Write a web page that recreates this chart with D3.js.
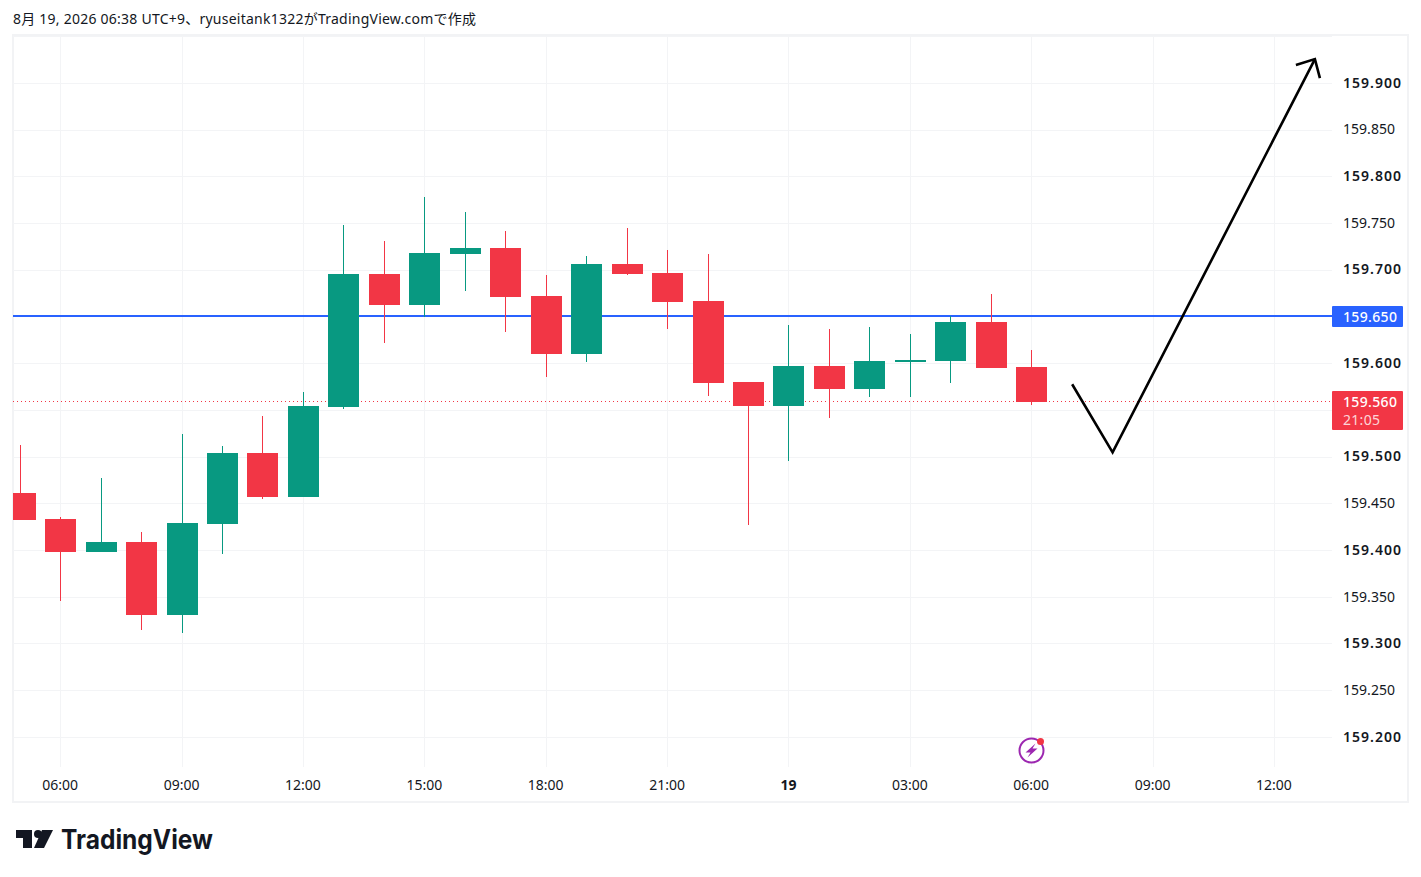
<!DOCTYPE html>
<html lang="ja">
<head>
<meta charset="UTF-8" />
<title>USDJPY 1H</title>
<script src="https://d3js.org/d3.v7.min.js"></script>
<style>
	body { margin: 0; background: #fff; }
	svg { display: block; }
	text { font-family: "Noto Sans", "Noto Sans CJK JP", sans-serif; fill: #131722; }
</style>
</head>
<body>
<svg id="chart" width="1421" height="877"></svg>
<script>
// hours counted from 06:00 on the 18th
const hours = d3.range(-1, 25)
const opens = [159.462, 159.434, 159.398, 159.409, 159.331, 159.428, 159.504, 159.457, 159.554, 159.696, 159.663, 159.717, 159.724, 159.672, 159.610, 159.707, 159.697, 159.667, 159.580, 159.555, 159.597, 159.573, 159.603, 159.603, 159.645, 159.596]
const highs = [159.513, 159.436, 159.478, 159.420, 159.525, 159.512, 159.544, 159.570, 159.748, 159.731, 159.778, 159.762, 159.742, 159.695, 159.715, 159.745, 159.722, 159.717, 159.580, 159.641, 159.637, 159.639, 159.632, 159.651, 159.675, 159.615]
const lows = [159.433, 159.346, 159.398, 159.315, 159.312, 159.396, 159.455, 159.457, 159.551, 159.622, 159.650, 159.678, 159.634, 159.586, 159.602, 159.695, 159.637, 159.565, 159.427, 159.496, 159.542, 159.564, 159.564, 159.579, 159.595, 159.556]
const closes = [159.433, 159.398, 159.409, 159.331, 159.429, 159.504, 159.457, 159.555, 159.696, 159.663, 159.718, 159.724, 159.671, 159.610, 159.707, 159.696, 159.666, 159.579, 159.555, 159.597, 159.573, 159.603, 159.604, 159.645, 159.595, 159.559]

const timeTicks = [0, 3, 6, 9, 12, 15, 18, 21, 24, 27, 30]
const timeLabels = ['06:00', '09:00', '12:00', '15:00', '18:00', '21:00', '19', '03:00', '06:00', '09:00', '12:00']
const priceTicks = [159.9, 159.85, 159.8, 159.75, 159.7, 159.65, 159.6, 159.55, 159.5, 159.45, 159.4, 159.35, 159.3, 159.25, 159.2]
const priceLabels = ['159.900', '159.850', '159.800', '159.750', '159.700', '', '159.600', '', '159.500', '159.450', '159.400', '159.350', '159.300', '159.250', '159.200']
const gridPrices = [159.95].concat(priceTicks)

const alertPrice = 159.651
const lastPrice = 159.56
const timer = '21:05'
const arrowHours = [25, 26, 31]
const arrowPrices = [159.578, 159.505, 159.926]

const GREEN = '#089981'
const RED = '#f23645'
const BLUE = '#2962ff'
const plotL = 13, plotR = 1332, plotT = 36, plotB = 767

const x = d3.scaleLinear().domain([0, 30]).range([60.65, 1274.45])
const y = d3.scaleLinear().domain([159.95, 159.2]).range([36.64, 737.4])
const snap = v => Math.round(v - 0.5) + 0.5

const svg = d3.select('#chart')

svg.append('rect').attr('width', 1421).attr('height', 877).attr('fill', '#fff')
svg.append('text').attr('x', 13).attr('y', 24).attr('font-size', 14).attr('textLength', 463)
	.text('8月 19, 2026 06:38 UTC+9、ryuseitank1322がTradingView.comで作成')

svg.append('rect').attr('x', 13).attr('y', 35).attr('width', 1395).attr('height', 767)
	.attr('fill', 'none').attr('stroke', '#f2f3f5').attr('stroke-width', 2)

svg.append('clipPath').attr('id', 'plot').append('rect')
	.attr('x', plotL).attr('y', plotT).attr('width', plotR - plotL).attr('height', plotB - plotT)

// grid
const grid = svg.append('g').attr('stroke', '#f3f4f6').attr('stroke-width', 1)
grid.selectAll('.h').data(gridPrices).enter().append('line').attr('class', 'h')
	.attr('x1', plotL).attr('x2', plotR)
	.attr('y1', d => snap(y(d))).attr('y2', d => snap(y(d)))
grid.selectAll('.v').data(timeTicks).enter().append('line').attr('class', 'v')
	.attr('y1', plotT).attr('y2', plotB)
	.attr('x1', d => snap(x(d))).attr('x2', d => snap(x(d)))

// axes
const xAxis = svg.append('g').attr('transform', 'translate(-1,778)')
	.call(d3.axisBottom(x).tickValues(timeTicks).tickSize(0).tickPadding(0)
		.tickFormat((d, i) => timeLabels[i]))
xAxis.select('.domain').remove()
xAxis.selectAll('text').attr('font-size', 14).attr('dy', '0.85em')
	.style('font-family', '"Noto Sans", sans-serif').attr('fill', '#131722')
	.attr('font-weight', (d, i) => timeLabels[i] === '19' ? 700 : 400)

const yAxis = svg.append('g').attr('transform', 'translate(1343,-1)')
	.call(d3.axisRight(y).tickValues(priceTicks).tickSize(0).tickPadding(0)
		.tickFormat((d, i) => priceLabels[i]))
yAxis.select('.domain').remove()
yAxis.selectAll('text').attr('font-size', 14).attr('dy', '0.34em')
	.style('font-family', '"Noto Sans", sans-serif').attr('fill', '#131722')
	.attr('font-weight', (d, i) => i % 2 === 0 ? 600 : 400)
	.attr('textLength', (d, i) => i % 2 === 0 ? 58 : 52)

const plot = svg.append('g').attr('clip-path', 'url(#plot)')

// price lines
plot.append('line').attr('x1', plotL).attr('x2', plotR)
	.attr('y1', snap(y(lastPrice))).attr('y2', snap(y(lastPrice)))
	.attr('stroke', RED).attr('stroke-width', 1).attr('stroke-dasharray', '1 3')
plot.append('line').attr('x1', plotL).attr('x2', plotR)
	.attr('y1', Math.round(y(alertPrice))).attr('y2', Math.round(y(alertPrice)))
	.attr('stroke', BLUE).attr('stroke-width', 2)

// candles
const colour = i => closes[i] >= opens[i] ? GREEN : RED
const candles = plot.selectAll('.candle').data(hours).enter().append('g')
	.attr('class', 'candle').attr('shape-rendering', 'crispEdges')
candles.append('line')
	.attr('x1', d => snap(x(d))).attr('x2', d => snap(x(d)))
	.attr('y1', (d, i) => Math.round(y(highs[i])))
	.attr('y2', (d, i) => Math.round(y(lows[i])))
	.attr('stroke', (d, i) => colour(i))
candles.append('rect')
	.attr('x', d => snap(x(d)) - 15.5)
	.attr('width', 31)
	.attr('y', (d, i) => Math.round(y(Math.max(opens[i], closes[i]))))
	.attr('height', (d, i) => Math.max(2, Math.round(y(Math.min(opens[i], closes[i]))) - Math.round(y(Math.max(opens[i], closes[i])))))
	.attr('fill', (d, i) => colour(i))

// hand drawn arrow
const arrowLine = d3.line().x(d => x(d[0])).y(d => y(d[1]))
const arrowPts = arrowHours.map((h, i) => [h, arrowPrices[i]])
svg.append('path').attr('d', arrowLine(arrowPts))
	.attr('fill', 'none').attr('stroke', '#000').attr('stroke-width', 2.6)
	.attr('stroke-linejoin', 'miter')
const tip = [x(arrowHours[2]), y(arrowPrices[2])]
svg.append('path')
	.attr('d', `M${tip[0] - 19},${tip[1] + 6}L${tip[0]},${tip[1]}L${tip[0] + 5},${tip[1] + 19}`)
	.attr('fill', 'none').attr('stroke', '#000').attr('stroke-width', 2.6)

// price labels on the right
const tag = (price, h, fill, lines) => {
	const yy = Math.round(y(price))
	svg.append('rect').attr('x', 1332).attr('y', yy - 10).attr('width', 71).attr('height', h)
		.attr('fill', fill).attr('rx', 1)
	lines.forEach((t, i) => {
		svg.append('text').attr('x', 1343).attr('y', yy + 6 + i * 18)
			.attr('font-size', 14).attr('font-weight', i ? 400 : 500)
			.attr('textLength', i ? 37 : 54)
			.style('fill', i ? 'rgba(255,255,255,0.8)' : '#fff')
			.text(t)
	})
}
tag(alertPrice, 21, BLUE, [d3.format('.3f')(159.65)])
tag(lastPrice, 39, RED, [d3.format('.3f')(lastPrice), timer])

// event icon
const ev = svg.append('g').attr('transform', `translate(${snap(x(24))},750.5)`)
ev.append('circle').attr('r', 12).attr('fill', '#fff').attr('stroke', '#9c27b0').attr('stroke-width', 2)
ev.append('path').attr('d', 'M4,-7L-6,2H-1L-4,7L6,-2H1Z').attr('fill', '#9c27b0')
ev.append('circle').attr('cx', 9).attr('cy', -9).attr('r', 3.5).attr('fill', RED)

// logo
const logo = svg.append('g').attr('transform', 'translate(16,830)').attr('fill', '#131722')
logo.append('path').attr('d', 'M0,0H16V18H7V8H0Z')
logo.append('circle').attr('cx', 22).attr('cy', 4).attr('r', 4)
logo.append('path').attr('d', 'M26,0H37L28,18H18Z')
svg.append('text').attr('x', 61).attr('y', 849).attr('font-size', 27).attr('font-weight', 700)
	.attr('textLength', 152).attr('lengthAdjust', 'spacingAndGlyphs')
	.style('font-family', 'Inter, sans-serif').text('TradingView')
</script>
</body>
</html>
